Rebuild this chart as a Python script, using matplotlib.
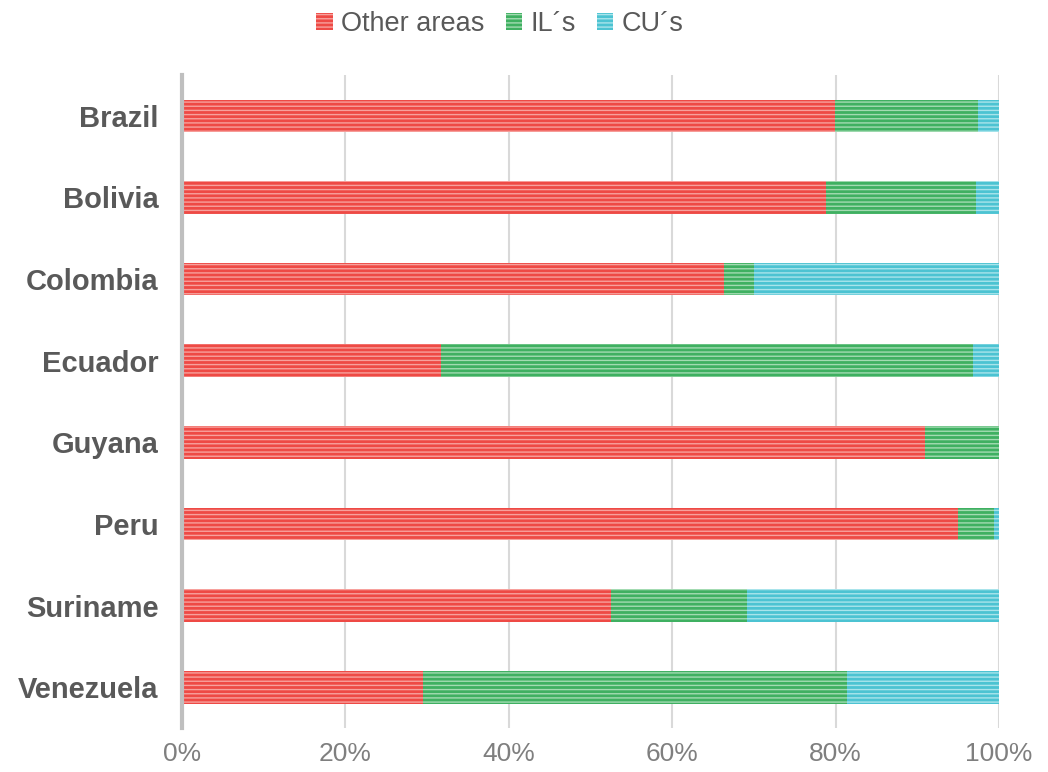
import numpy as np
import matplotlib.pyplot as plt

countries = ['Brazil', 'Bolivia', 'Colombia', 'Ecuador', 'Guyana', 'Peru', 'Suriname', 'Venezuela']
other_areas = [79.9, 78.8, 66.3, 31.7, 90.9, 95.0, 52.5, 29.5]
ils = [17.5, 18.4, 3.7, 65.1, 9.1, 4.4, 16.7, 51.9]
cus = [2.6, 2.8, 30.0, 3.2, 0.0, 0.6, 30.8, 18.6]
xticks = [0, 20, 40, 60, 80, 100]

plt.rcParams['font.family'] = ['Liberation Sans', 'DejaVu Sans']
plt.rcParams['hatch.linewidth'] = 1.0

fig = plt.figure(figsize=(10.48, 7.72), dpi=100)
ax = fig.add_axes([0.1737, 0.057, 0.7796, 0.8458])

y = np.arange(len(countries))
series = [
    (other_areas, 'Other areas', '#ee4a45', '#f7a19d'),
    (ils, 'IL´s', '#3fb061', '#a3dbb2'),
    (cus, 'CU´s', '#4cc3d2', '#a9e4eb'),
]
left = np.zeros(len(countries))
for vals, name, col, light in series:
    ax.barh(y, vals, left=left, height=0.4, color=col, edgecolor=light,
            hatch='----', linewidth=0, label=name, zorder=3)
    left += np.array(vals)

ax.set_xlim(0, 100)
ax.set_ylim(len(countries) - 0.5, -0.5)
ax.set_yticks(y)
ax.set_yticklabels(countries, fontsize=21, fontweight='bold', color='#595959')
ax.set_xticks(xticks)
ax.set_xticklabels([f'{t}%' for t in xticks], fontsize=19, color='#7f7f7f')
ax.tick_params(axis='both', length=0)
ax.tick_params(axis='y', pad=17)
ax.tick_params(axis='x', pad=10)
ax.xaxis.grid(True, color='#d9d9d9', linewidth=1.5, zorder=0)
for s in ['top', 'right', 'bottom']:
    ax.spines[s].set_visible(False)
ax.spines['left'].set_color('#bfbfbf')
ax.spines['left'].set_linewidth(3)
ax.spines['left'].set_zorder(4)

leg = fig.legend(loc='center', bbox_to_anchor=(0.477, 0.969), ncol=3, frameon=False,
                 fontsize=19.5, handlelength=0.6, handleheight=0.6, handletextpad=0.3,
                 columnspacing=0.8)
for t in leg.get_texts():
    t.set_color('#595959')

fig.savefig('out.png', dpi=100)
